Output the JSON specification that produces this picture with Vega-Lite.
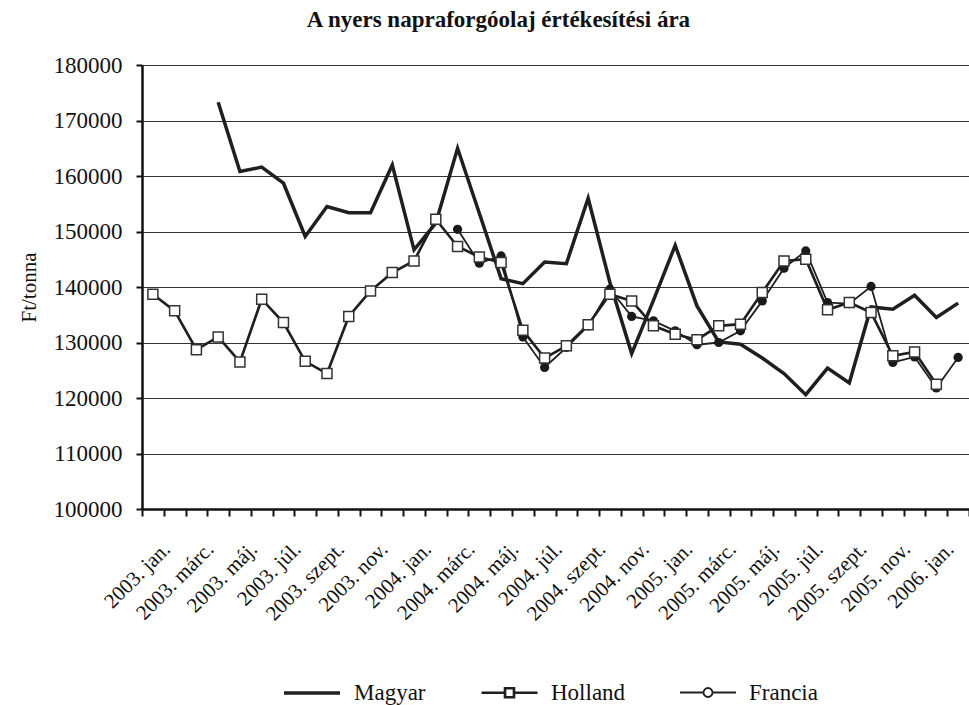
{
  "$schema": "https://vega.github.io/schema/vega-lite/v6.json",
  "autosize": {"type": "none"},
  "padding": {"left": 142, "top": 65, "right": 0, "bottom": 196},
  "width": 827,
  "height": 444,
  "background": "white",
  "title": {
    "text": "A nyers napraforgóolaj értékesítési ára",
    "font": "Liberation Serif",
    "fontSize": 23,
    "fontWeight": "bold",
    "color": "#111",
    "frame": "bounds",
    "anchor": "middle",
    "offset": 22
  },
  "config": {
    "font": "Liberation Serif",
    "view": {"stroke": null},
    "style": {
      "guide-label": {"font": "Liberation Serif", "fill": "#111"},
      "guide-title": {"font": "Liberation Serif", "fill": "#111"}
    },
    "axis": {"labelFont": "Liberation Serif", "titleFont": "Liberation Serif", "labelColor": "#111", "titleColor": "#111"},
    "legend": {"labelFont": "Liberation Serif", "labelFontSize": 23, "labelColor": "#111"}
  },
  "datasets": {
    "rows": [
      {"month": "2003. jan.", "series": "Holland", "value": 138700},
      {"month": "2003. febr.", "series": "Holland", "value": 135700},
      {"month": "2003. márc.", "series": "Holland", "value": 128700},
      {"month": "2003. ápr.", "series": "Holland", "value": 131000},
      {"month": "2003. máj.", "series": "Holland", "value": 126500},
      {"month": "2003. jún.", "series": "Holland", "value": 137800},
      {"month": "2003. júl.", "series": "Holland", "value": 133600},
      {"month": "2003. aug.", "series": "Holland", "value": 126600},
      {"month": "2003. szept.", "series": "Holland", "value": 124400},
      {"month": "2003. okt.", "series": "Holland", "value": 134700},
      {"month": "2003. nov.", "series": "Holland", "value": 139300},
      {"month": "2003. dec.", "series": "Holland", "value": 142600},
      {"month": "2004. jan.", "series": "Holland", "value": 144700},
      {"month": "2004. febr.", "series": "Holland", "value": 152200},
      {"month": "2004. márc.", "series": "Holland", "value": 147300},
      {"month": "2004. ápr.", "series": "Holland", "value": 145400},
      {"month": "2004. máj.", "series": "Holland", "value": 144400},
      {"month": "2004. jún.", "series": "Holland", "value": 132200},
      {"month": "2004. júl.", "series": "Holland", "value": 127200},
      {"month": "2004. aug.", "series": "Holland", "value": 129400},
      {"month": "2004. szept.", "series": "Holland", "value": 133200},
      {"month": "2004. okt.", "series": "Holland", "value": 138700},
      {"month": "2004. nov.", "series": "Holland", "value": 137500},
      {"month": "2004. dec.", "series": "Holland", "value": 133000},
      {"month": "2005. jan.", "series": "Holland", "value": 131500},
      {"month": "2005. febr.", "series": "Holland", "value": 130500},
      {"month": "2005. márc.", "series": "Holland", "value": 133000},
      {"month": "2005. ápr.", "series": "Holland", "value": 133300},
      {"month": "2005. máj.", "series": "Holland", "value": 139000},
      {"month": "2005. jún.", "series": "Holland", "value": 144700},
      {"month": "2005. júl.", "series": "Holland", "value": 145000},
      {"month": "2005. aug.", "series": "Holland", "value": 135900},
      {"month": "2005. szept.", "series": "Holland", "value": 137200},
      {"month": "2005. okt.", "series": "Holland", "value": 135400},
      {"month": "2005. nov.", "series": "Holland", "value": 127600},
      {"month": "2005. dec.", "series": "Holland", "value": 128300},
      {"month": "2006. jan.", "series": "Holland", "value": 122500},

      {"month": "2003. ápr.", "series": "Magyar", "value": 173300},
      {"month": "2003. máj.", "series": "Magyar", "value": 160800},
      {"month": "2003. jún.", "series": "Magyar", "value": 161600},
      {"month": "2003. júl.", "series": "Magyar", "value": 158700},
      {"month": "2003. aug.", "series": "Magyar", "value": 149100},
      {"month": "2003. szept.", "series": "Magyar", "value": 154500},
      {"month": "2003. okt.", "series": "Magyar", "value": 153400},
      {"month": "2003. nov.", "series": "Magyar", "value": 153400},
      {"month": "2003. dec.", "series": "Magyar", "value": 162000},
      {"month": "2004. jan.", "series": "Magyar", "value": 146700},
      {"month": "2004. febr.", "series": "Magyar", "value": 151500},
      {"month": "2004. márc.", "series": "Magyar", "value": 165000},
      {"month": "2004. ápr.", "series": "Magyar", "value": 153300},
      {"month": "2004. máj.", "series": "Magyar", "value": 141500},
      {"month": "2004. jún.", "series": "Magyar", "value": 140600},
      {"month": "2004. júl.", "series": "Magyar", "value": 144500},
      {"month": "2004. aug.", "series": "Magyar", "value": 144200},
      {"month": "2004. szept.", "series": "Magyar", "value": 156000},
      {"month": "2004. okt.", "series": "Magyar", "value": 140800},
      {"month": "2004. nov.", "series": "Magyar", "value": 128000},
      {"month": "2004. dec.", "series": "Magyar", "value": 137600},
      {"month": "2005. jan.", "series": "Magyar", "value": 147500},
      {"month": "2005. febr.", "series": "Magyar", "value": 136600},
      {"month": "2005. márc.", "series": "Magyar", "value": 130100},
      {"month": "2005. ápr.", "series": "Magyar", "value": 129700},
      {"month": "2005. máj.", "series": "Magyar", "value": 127200},
      {"month": "2005. jún.", "series": "Magyar", "value": 124400},
      {"month": "2005. júl.", "series": "Magyar", "value": 120600},
      {"month": "2005. aug.", "series": "Magyar", "value": 125400},
      {"month": "2005. szept.", "series": "Magyar", "value": 122700},
      {"month": "2005. okt.", "series": "Magyar", "value": 136400},
      {"month": "2005. nov.", "series": "Magyar", "value": 136000},
      {"month": "2005. dec.", "series": "Magyar", "value": 138500},
      {"month": "2006. jan.", "series": "Magyar", "value": 134500},
      {"month": "2006. febr.", "series": "Magyar", "value": 137100},

      {"month": "2004. márc.", "series": "Francia", "value": 150400},
      {"month": "2004. ápr.", "series": "Francia", "value": 144300},
      {"month": "2004. máj.", "series": "Francia", "value": 145600},
      {"month": "2004. jún.", "series": "Francia", "value": 131000},
      {"month": "2004. júl.", "series": "Francia", "value": 125500},
      {"month": "2004. aug.", "series": "Francia", "value": 129100},
      {"month": "2004. szept.", "series": "Francia", "value": 133000},
      {"month": "2004. okt.", "series": "Francia", "value": 139600},
      {"month": "2004. nov.", "series": "Francia", "value": 134700},
      {"month": "2004. dec.", "series": "Francia", "value": 133900},
      {"month": "2005. jan.", "series": "Francia", "value": 132100},
      {"month": "2005. febr.", "series": "Francia", "value": 129600},
      {"month": "2005. márc.", "series": "Francia", "value": 130000},
      {"month": "2005. ápr.", "series": "Francia", "value": 132100},
      {"month": "2005. máj.", "series": "Francia", "value": 137500},
      {"month": "2005. jún.", "series": "Francia", "value": 143400},
      {"month": "2005. júl.", "series": "Francia", "value": 146500},
      {"month": "2005. aug.", "series": "Francia", "value": 137200},
      {"month": "2005. szept.", "series": "Francia", "value": 137000},
      {"month": "2005. okt.", "series": "Francia", "value": 140100},
      {"month": "2005. nov.", "series": "Francia", "value": 126400},
      {"month": "2005. dec.", "series": "Francia", "value": 127400},
      {"month": "2006. jan.", "series": "Francia", "value": 121800},
      {"month": "2006. febr.", "series": "Francia", "value": 127300}
    ]
  },
  "data": {"name": "rows"},
  "encoding": {
    "x": {
      "field": "month",
      "type": "ordinal",
      "scale": {
        "type": "band",
        "paddingInner": 0,
        "paddingOuter": 0,
        "domain": ["2003. jan.", "2003. febr.", "2003. márc.", "2003. ápr.", "2003. máj.", "2003. jún.", "2003. júl.", "2003. aug.", "2003. szept.", "2003. okt.", "2003. nov.", "2003. dec.",
                   "2004. jan.", "2004. febr.", "2004. márc.", "2004. ápr.", "2004. máj.", "2004. jún.", "2004. júl.", "2004. aug.", "2004. szept.", "2004. okt.", "2004. nov.", "2004. dec.",
                   "2005. jan.", "2005. febr.", "2005. márc.", "2005. ápr.", "2005. máj.", "2005. jún.", "2005. júl.", "2005. aug.", "2005. szept.", "2005. okt.", "2005. nov.", "2005. dec.",
                   "2006. jan.", "2006. febr."]
      },
      "axis": {
        "title": null,
        "tickBand": "extent",
        "labelAngle": -45,
        "labelFontSize": 21,
        "labelPadding": 22,
        "labelOffset": 6,
        "labelExpr": "test(/jan|márc|máj|júl|szept|nov/, datum.value) ? datum.value : ''",
        "domainColor": "#111",
        "domainWidth": 2.5,
        "tickColor": "#111",
        "tickWidth": 2,
        "tickSize": 7,
        "grid": false,
        "labelOverlap": false
      }
    },
    "y": {
      "field": "value",
      "type": "quantitative",
      "scale": {"domain": [100000, 180000], "nice": false, "zero": false},
      "axis": {
        "title": "Ft/tonna",
        "titleFontSize": 21,
        "titleFontWeight": "normal",
        "titlePadding": 14,
        "values": [100000, 110000, 120000, 130000, 140000, 150000, 160000, 170000, 180000],
        "format": "d",
        "labelFontSize": 23,
        "labelPadding": 14,
        "domainColor": "#111",
        "domainWidth": 2.5,
        "tickColor": "#111",
        "tickWidth": 2,
        "tickSize": 6,
        "grid": true,
        "gridColor": "#333",
        "gridWidth": 1.2
      }
    }
  },
  "layer": [
    {
      "mark": {"type": "line", "strokeJoin": "miter", "strokeCap": "butt"},
      "encoding": {
        "color": {
          "field": "series",
          "type": "nominal",
          "scale": {"domain": ["Magyar", "Holland", "Francia"], "range": ["#1f1f1f", "#1f1f1f", "#1f1f1f"]},
          "legend": {
            "title": null,
            "orient": "none",
            "legendX": 140,
            "legendY": 598,
            "direction": "horizontal",
            "labelFont": "Liberation Serif",
            "labelFontSize": 23,
            "labelColor": "#111",
            "labelOffset": 12,
            "columnPadding": 50,
            "symbolSize": 3136,
            "encode": {
              "symbols": {
                "update": {
                  "shape": {"signal": "datum.value === 'Magyar' ? 'M-1,0H1' : (datum.value === 'Holland' ? 'M-1,0H-0.16M0.16,0H1M-0.16,-0.16H0.16V0.16H-0.16Z' : 'M-1,0H-0.16M0.16,0H1M-0.16,0A0.16,0.16 0 1,0 0.16,0A0.16,0.16 0 1,0 -0.16,0Z')"},
                  "strokeWidth": {"signal": "datum.value === 'Magyar' ? 3.5 : 1.5"},
                  "fill": {"value": "white"},
                  "stroke": {"value": "#1f1f1f"},
                  "opacity": {"value": 1}
                }
              }
            }
          }
        },
        "strokeWidth": {
          "field": "series",
          "type": "nominal",
          "scale": {"domain": ["Magyar", "Holland", "Francia"], "range": [3.5, 1.8, 1.8]},
          "legend": null
        }
      }
    },
    {
      "transform": [{"filter": "datum.series === 'Francia'"}],
      "mark": {"type": "point", "shape": "circle", "filled": true, "color": "#1a1a1a", "size": 85, "opacity": 1}
    },
    {
      "transform": [{"filter": "datum.series === 'Holland'"}],
      "mark": {"type": "point", "shape": "square", "filled": true, "fill": "white", "stroke": "#333", "strokeWidth": 1.5, "size": 100, "opacity": 1}
    }
  ]
}
